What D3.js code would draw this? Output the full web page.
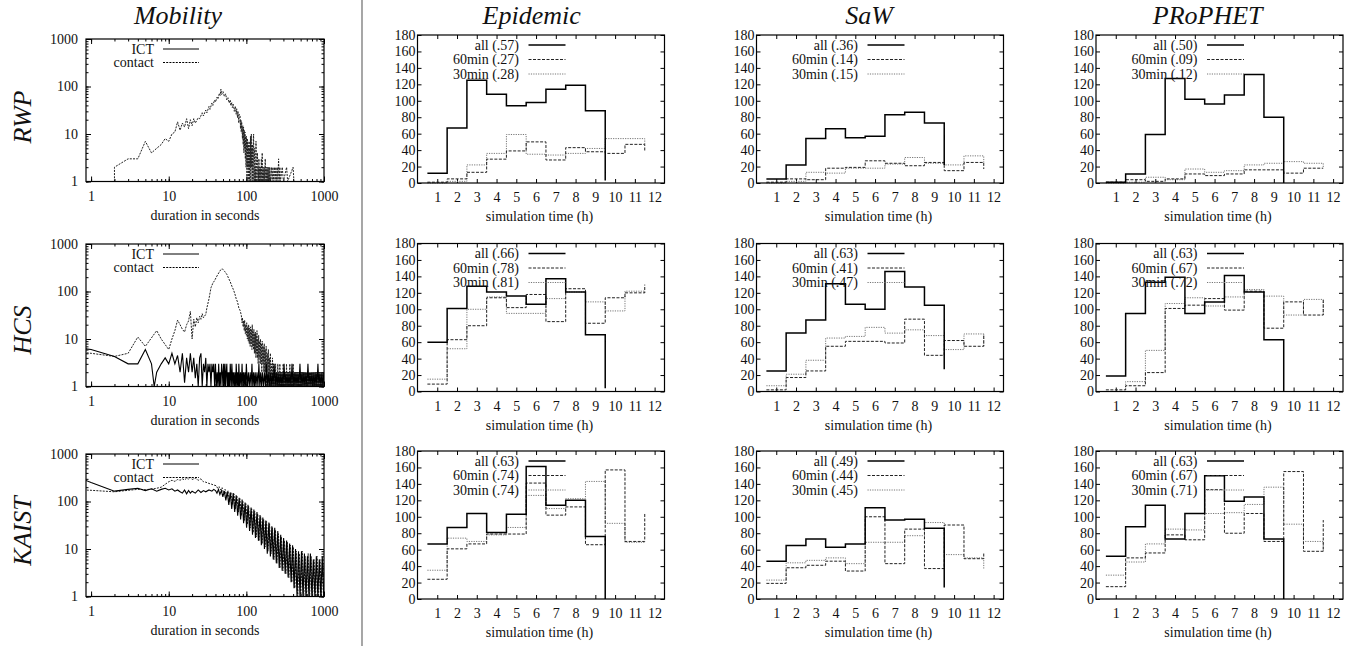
<!DOCTYPE html>
<html>
<head>
<meta charset="utf-8">
<script src="https://cdn.jsdelivr.net/npm/d3@7/dist/d3.min.js"></script>
<style>
  body { margin: 0; background: #fff; }
  text { font-family: "Liberation Serif", "Times New Roman", serif; fill: #111; }
</style>
</head>
<body>
<svg id="fig" width="1356" height="646"></svg>
<script>
// ---- labels
const algorithms = ["Epidemic", "SaW", "PRoPHET"]
const mobilities = ["RWP", "HCS", "KAIST"]
const hourTicks = [1, 2, 3, 4, 5, 6, 7, 8, 9, 10, 11, 12]
const countTicks = [0, 20, 40, 60, 80, 100, 120, 140, 160, 180]
const decadeTicks = [1, 10, 100, 1000]
const seriesNames = ["all", "60min", "30min"]

// ---- histogram values, one value per hour bin (x = .5, 1.5, ...); last value closes the step
// [all, 60min, 30min]
const epiRwp = [
  [12, 67, 125, 108, 94, 98, 114, 119, 88, 3],
  [1, 5, 13, 29, 39, 50, 28, 43, 38, 36, 47, 38],
  [0, 2, 22, 36, 59, 35, 34, 36, 42, 54, 54, 47]
]
const sawRwp = [
  [5, 22, 54, 66, 55, 57, 83, 86, 73, 22],
  [1, 5, 4, 18, 19, 27, 24, 21, 25, 15, 25, 17],
  [0, 2, 13, 12, 18, 18, 23, 31, 24, 22, 33, 25]
]
const proRwp = [
  [1, 11, 59, 127, 102, 96, 107, 132, 80, 0],
  [1, 4, 2, 5, 11, 9, 11, 16, 16, 12, 18, 18],
  [0, 1, 7, 4, 17, 13, 15, 22, 24, 26, 24, 19]
]
const epiHcs = [
  [60, 101, 128, 121, 116, 106, 137, 121, 69, 4],
  [9, 63, 80, 114, 102, 118, 85, 125, 83, 114, 120, 130],
  [15, 52, 100, 115, 95, 95, 113, 121, 109, 98, 122, 120]
]
const sawHcs = [
  [25, 71, 87, 131, 106, 100, 146, 127, 105, 27],
  [2, 17, 25, 55, 61, 61, 59, 88, 44, 62, 55, 70],
  [7, 21, 38, 65, 67, 78, 71, 75, 68, 51, 70, 55]
]
const proHcs = [
  [19, 95, 133, 139, 95, 109, 141, 121, 63, 0],
  [2, 7, 23, 101, 105, 113, 99, 122, 77, 109, 93, 112],
  [0, 12, 50, 107, 114, 104, 115, 124, 116, 93, 112, 93]
]
const epiKaist = [
  [67, 87, 104, 81, 103, 161, 114, 120, 76, 0],
  [24, 61, 67, 79, 79, 141, 102, 112, 66, 157, 70, 105],
  [35, 74, 70, 78, 87, 126, 110, 122, 143, 92, 69, 69]
]
const sawKaist = [
  [46, 65, 73, 63, 67, 111, 96, 97, 86, 14],
  [19, 38, 41, 46, 34, 100, 43, 85, 37, 90, 49, 57],
  [23, 44, 47, 50, 43, 69, 69, 77, 93, 54, 50, 37]
]
const proKaist = [
  [52, 88, 114, 73, 104, 150, 119, 124, 73, 0],
  [15, 50, 56, 78, 72, 133, 80, 104, 70, 155, 58, 96],
  [29, 45, 67, 85, 84, 104, 105, 115, 136, 91, 70, 58]
]
const corrRwp = [[".57", ".27", ".28"], [".36", ".14", ".15"], [".50", ".09", ".12"]]
const corrHcs = [[".66", ".78", ".81"], [".63", ".41", ".47"], [".63", ".67", ".72"]]
const corrKaist = [[".63", ".74", ".74"], [".49", ".44", ".45"], [".63", ".67", ".71"]]

// ---- duration distributions [seconds, count]
const rwpIct = [[3, 1], [3.6, 1]]
const rwpContact = [[2,1],[2,2],[3,3],[4,3],[5,7],[6,4],[7,5],[8,6],[9,8],[10,7],[11,10],[12,11],[13,18],[14,12],[15,17],[16,14],[17,21],[18,13],[19,20],[20,15],[21,21],[22,17],[24,22],[25,21],[27,28],[28,24],[30,32],[31,28],[33,38],[34,33],[36,45],[37,40],[39,52],[40,47],[42,60],[43,55],[45,72],[46,65],[47,88],[48,68],[50,78],[52,62],[54,70],[56,52],[58,58],[60,45],[62,52],[63,40],[65,46],[66,36],[68,42],[70,30],[72,38],[74,26],[75,34],[77,22],[78,30],[80,17],[81,26],[83,24],[84,13],[85,20],[86,11],[87,18],[89,8],[90,15],[91,6],[92,14],[93,4],[94,12],[95,5],[96,11],[97,3],[98,9],[99,2],[100,9],[101,3],[102,1],[103,8],[104,2],[105,7],[106,1],[107,6],[108,2],[109,5],[110,1],[111,7],[112,2],[113,9],[114,1],[115,6],[116,10],[117,2],[118,5],[119,1],[120,6],[121,2],[122,1],[123,8],[124,10],[125,2],[126,1],[127,4],[128,5],[129,1],[130,2],[131,1],[133,7],[135,2],[136,1],[138,3],[139,4],[141,1],[142,2],[144,1],[145,3],[147,1],[148,2],[150,1],[152,2],[154,1],[156,3],[158,1],[160,4],[162,1],[165,2],[167,1],[170,2],[172,1],[175,3],[178,1],[180,2],[183,1],[185,2],[188,1],[190,2],[193,1],[195,2],[198,1],[200,2],[205,1],[210,2],[215,1],[220,2],[225,1],[230,2],[235,1],[240,2],[245,1],[250,2],[255,1],[260,3],[265,1],[270,2],[275,1],[290,2],[300,1],[330,2],[340,1],[400,2],[410,1],[1000,1]]
const hcsIct = [[0.8,6.3],[1,6],[2,4.3],[3,3],[4,3],[5,6],[6,3],[6.5,1],[7,2],[8,3],[9,4],[10,3],[11,5],[12,3],[13,4.5],[14,2],[15,5],[16,1.2],[17,4],[18,2],[19,5],[20,2],[21,4],[22,1.5],[23,3],[24,1],[25,4],[26,5],[27,1],[28,3],[29,2],[30,4],[31,1],[32,3],[33,2],[34,3],[35,1],[36,3],[37,2],[38,3],[39,1],[40,3],[41,1],[42,2],[43,1],[44,3],[45,1],[46,2],[47,1],[48,3],[49,2],[50,1],[51,3],[52,1],[53,3],[54,1],[55,2],[56,3],[57,1],[58,2],[59,1],[60,2],[61,1],[62,3],[64,1],[65,3],[67,1],[68,2],[70,1],[71,2],[73,1],[74,3],[76,1],[77,2],[79,1],[80,3],[82,1],[84,2],[86,1],[88,3],[90,1],[92,2],[94,1],[96,2],[98,1],[100,3],[103,1],[106,2],[109,1],[112,2],[115,1],[118,3],[121,1],[124,2],[127,1],[130,2],[133,1],[137,2],[141,1],[145,3],[149,1],[153,2],[157,1],[161,2],[166,1],[171,2],[176,1],[181,3],[186,1],[191,2],[197,1],[203,2],[209,1],[215,2],[221,1],[228,3],[235,1],[242,2],[249,1],[256,2],[264,1],[272,2],[280,1],[288,2],[297,1],[306,3],[315,1],[324,2],[334,1],[344,2],[354,1],[365,2],[376,1],[387,3],[399,1],[411,2],[423,1],[436,2],[449,1],[462,2],[476,1],[490,3],[505,1],[520,2],[536,1],[552,2],[568,1],[585,2],[603,1],[621,3],[640,1],[659,2],[679,1],[699,2],[720,1],[742,2],[764,1],[787,2],[811,1],[835,3],[860,1],[886,2],[913,1],[940,2],[968,1],[1000,2]]
const hcsContact = [[0.8,5.2],[1,5],[2,4.3],[3,5],[4,11],[5,7],[7,15],[8,10],[10,6],[11,10],[12,15],[13,25],[14,20],[15,16],[16,14],[17,20],[18,24],[19,38],[20,10],[21,26],[22,18],[23,28],[24,22],[25,30],[26,26],[27,34],[28,28],[30,33],[31,45],[33,70],[35,120],[37,150],[39,170],[41,200],[43,230],[45,260],[47,290],[49,300],[51,280],[53,260],[56,230],[59,190],[62,160],[65,130],[68,110],[71,90],[74,70],[77,60],[80,45],[83,40],[86,32],[88,22],[89,28],[91,18],[92,24],[94,15],[95,25],[97,13],[98,20],[100,12],[101,22],[103,10],[104,18],[106,9],[107,20],[109,8],[110,17],[112,7],[113,18],[115,8],[116,16],[118,6],[119,20],[121,7],[122,14],[124,6],[125,16],[127,5],[128,13],[130,5],[131,14],[133,4],[134,12],[136,5],[137,15],[139,4],[140,10],[142,3],[144,12],[146,4],[148,9],[150,3],[152,10],[154,3],[156,8],[158,2],[160,9],[163,3],[165,7],[168,2],[170,8],[173,2],[175,6],[178,2],[180,7],[183,1],[186,5],[189,2],[192,6],[195,1],[198,4],[201,1],[204,5],[207,1],[210,3],[214,1],[217,4],[221,1],[224,3],[228,1],[231,2],[235,1],[238,3],[242,1],[246,2],[250,1],[254,3],[258,1],[262,2],[266,1],[270,3],[275,1],[279,2],[284,1],[288,2],[293,1],[298,3],[303,1],[308,2],[313,1],[318,2],[324,1],[329,3],[335,1],[340,2],[346,1],[351,2],[357,1],[363,3],[369,1],[375,2],[381,1],[388,2],[395,1],[401,3],[408,1],[415,2],[422,1],[430,2],[437,1],[445,2],[452,1],[460,2],[468,1],[476,2],[484,1],[493,2],[501,1],[510,2],[519,1],[528,2],[537,1],[546,2],[556,1],[565,2],[575,1],[585,2],[595,1],[605,2],[616,1],[626,2],[637,1],[648,2],[659,1],[670,2],[682,1],[694,2],[706,1],[718,2],[730,1],[743,2],[756,1],[769,2],[782,1],[796,2],[810,1],[824,2],[838,1],[853,2],[868,1],[883,2],[898,1],[914,2],[930,1],[946,2],[962,1],[979,2],[1000,1]]
const kaistIct = [[0.8,290],[1,250],[2,165],[3,180],[4,190],[5,170],[6,185],[7,165],[8,180],[9,190],[10,175],[11,185],[12,165],[13,175],[14,160],[15,150],[16,175],[17,145],[18,170],[19,150],[20,165],[22,150],[24,175],[26,155],[28,170],[30,160],[33,175],[36,165],[38,180],[40,170],[41.8,150],[43.7,180],[45.6,140],[47.7,170],[49.8,125],[52,165],[54.4,105],[56.8,160],[59.4,85],[62,155],[64.8,70],[67.7,150],[70.8,60],[74,135],[77.3,50],[80.8,120],[84.4,42],[88.2,110],[92.2,35],[96.3,95],[100.7,28],[105,85],[110,24],[115,75],[120,20],[125,68],[131,17],[137,60],[143,15],[150,52],[156,12],[163,46],[171,10],[178,40],[186,8],[195,36],[204,7],[213,30],[222,6],[232,28],[243,5],[254,24],[265,4],[277,20],[289,3.5],[302,17],[316,3],[330,15],[345,2.5],[361,13],[377,2],[394,12],[411,1.5],[430,10],[449,1],[470,9],[491,1],[513,9],[536,1],[560,8],[585,1],[612,7],[639,1],[668,8],[698,1],[729,6],[762,1],[797,7],[832,1],[870,6],[909,1],[950,7],[993,1]]
const kaistContact = [[0.8,175],[1,172],[2,160],[3,172],[4,180],[5,178],[6,182],[7,190],[8,200],[9,230],[10,260],[11,280],[12,265],[13,290],[14,280],[15,300],[16,285],[17,310],[18,295],[19,325],[20,290],[22,310],[24,280],[26,300],[28,260],[30,255],[33,240],[36,230],[38,222],[40.9,215],[42.7,190],[44.6,205],[46.6,175],[48.7,195],[50.9,150],[53.2,180],[55.6,125],[58.1,170],[60.7,100],[63.4,155],[66.2,85],[69.2,145],[72.4,70],[75.6,130],[79,60],[82.6,115],[86.3,50],[90.2,100],[94.2,40],[98.5,90],[103,33],[107,80],[112,28],[117,70],[122,22],[128,62],[134,18],[140,55],[146,15],[153,48],[160,13],[167,42],[174,11],[182,38],[190,9],[199,34],[208,8],[217,28],[227,6],[237,25],[248,5],[259,21],[271,4],[283,18],[296,3.5],[309,15],[323,3],[337,14],[353,2.5],[369,12],[385,2],[402,11],[420,1.5],[439,9],[459,1],[480,8],[502,1],[524,9],[548,1],[572,7],[598,1],[625,8],[653,1],[683,7],[713,1],[745,6],[779,1],[814,7],[851,1],[889,6],[929,1],[971,5],[1000,1]]

// ---- layout
const svg = d3.select("#fig")
const histLeft = [417.5, 756.5, 1096]
const histTop = [35, 243.5, 451]
const histW = 247, histH = 148
const logLeft = 86, logW = 238, logH = 142.5
const logTop = [39, 244, 454]
const titleX = [531.7, 869, 1207.7]
const rowLabelY = [117, 330, 531]

const seriesStyle = [
  { stroke: "#000", width: 1.5, dash: null },
  { stroke: "#222", width: 1, dash: "3,1.5" },
  { stroke: "#777", width: 1, dash: "1.2,1.2" }
]

let clipId = 0

function frame(g, x0, y0, w, h) {
  g.append("rect")
    .attr("x", x0).attr("y", y0).attr("width", w).attr("height", h)
    .attr("fill", "none").attr("stroke", "#000").attr("stroke-width", 1.2)
}

function cleanAxis(sel) {
  sel.select(".domain").remove()
  sel.selectAll("line").attr("stroke", "#000")
  sel.selectAll("text").attr("font-size", 14).attr("fill", "#111")
}

function histPanel(x0, y0, data, corr) {
  const x = d3.scaleLinear().domain([0, 12.5]).range([x0, x0 + histW])
  const y = d3.scaleLinear().domain([0, 180]).range([y0 + histH, y0])
  const g = svg.append("g")

  g.append("g").attr("transform", `translate(${x0},0)`)
    .call(d3.axisLeft(y).tickValues(countTicks).tickSize(-4).tickPadding(2))
    .call(cleanAxis)
  g.append("g").attr("transform", `translate(${x0 + histW},0)`)
    .call(d3.axisRight(y).tickValues(countTicks).tickSize(-4).tickFormat(""))
    .call(cleanAxis)
  g.append("g").attr("transform", `translate(0,${y0 + histH})`)
    .call(d3.axisBottom(x).tickValues(hourTicks).tickSize(-4).tickPadding(9.5))
    .call(cleanAxis)
  g.append("g").attr("transform", `translate(0,${y0})`)
    .call(d3.axisTop(x).tickValues(hourTicks).tickSize(-4).tickFormat(""))
    .call(cleanAxis)

  const line = d3.line()
    .x((d, i) => x(i + 0.5))
    .y((d) => y(d))
    .curve(d3.curveStepAfter)

  // dotted first, solid on top
  for (let s = 2; s >= 0; s--) {
    g.append("path")
      .datum(data[s])
      .attr("d", line)
      .attr("fill", "none")
      .attr("stroke", seriesStyle[s].stroke)
      .attr("stroke-width", seriesStyle[s].width)
      .attr("stroke-dasharray", seriesStyle[s].dash)
  }

  // legend
  seriesNames.forEach((name, s) => {
    const ly = y0 + 10 + s * 14.5
    g.append("text")
      .attr("x", x0 + 101.5).attr("y", ly + 4.5)
      .attr("text-anchor", "end").attr("font-size", 14)
      .text(`${name} (${corr[s]})`)
    g.append("line")
      .attr("x1", x0 + 111).attr("x2", x0 + 148).attr("y1", ly).attr("y2", ly)
      .attr("stroke", seriesStyle[s].stroke)
      .attr("stroke-width", seriesStyle[s].width)
      .attr("stroke-dasharray", seriesStyle[s].dash)
  })

  frame(g, x0, y0, histW, histH)

  g.append("text")
    .attr("x", x0 + 122).attr("y", y0 + histH + 38)
    .attr("text-anchor", "middle").attr("font-size", 14)
    .text("simulation time (h)")
}

function logPanel(y0, ict, contact) {
  const x0 = logLeft
  const x = d3.scaleLog().domain([0.86, 1000]).range([x0, x0 + logW])
  const y = d3.scaleLog().domain([1, 1000]).range([y0 + logH, y0])
  const g = svg.append("g")
  const minorX = x.ticks().filter((d) => d >= 1)
  const minorY = y.ticks()
  const fmt = d3.format("d")

  g.append("g").attr("transform", `translate(${x0},0)`)
    .call(d3.axisLeft(y).tickValues(minorY).tickSize(-2.5).tickFormat(""))
    .call(cleanAxis)
  g.append("g").attr("transform", `translate(${x0},0)`)
    .call(d3.axisLeft(y).tickValues(decadeTicks).tickSize(-5).tickPadding(8).tickFormat(fmt))
    .call(cleanAxis)
  g.append("g").attr("transform", `translate(${x0 + logW},0)`)
    .call(d3.axisRight(y).tickValues(minorY).tickSize(-2.5).tickFormat(""))
    .call(cleanAxis)
  g.append("g").attr("transform", `translate(${x0 + logW},0)`)
    .call(d3.axisRight(y).tickValues(decadeTicks).tickSize(-5).tickFormat(""))
    .call(cleanAxis)
  g.append("g").attr("transform", `translate(0,${y0 + logH})`)
    .call(d3.axisBottom(x).tickValues(minorX).tickSize(-2.5).tickFormat(""))
    .call(cleanAxis)
  g.append("g").attr("transform", `translate(0,${y0 + logH})`)
    .call(d3.axisBottom(x).tickValues(decadeTicks).tickSize(-5).tickPadding(9.5).tickFormat(fmt))
    .call(cleanAxis)
  g.append("g").attr("transform", `translate(0,${y0})`)
    .call(d3.axisTop(x).tickValues(minorX).tickSize(-2.5).tickFormat(""))
    .call(cleanAxis)
  g.append("g").attr("transform", `translate(0,${y0})`)
    .call(d3.axisTop(x).tickValues(decadeTicks).tickSize(-5).tickFormat(""))
    .call(cleanAxis)

  const id = "clip" + clipId++
  svg.append("clipPath").attr("id", id)
    .append("rect").attr("x", x0).attr("y", y0).attr("width", logW).attr("height", logH)

  const line = d3.line().x((d) => x(d[0])).y((d) => y(d[1]))
  const plot = g.append("g").attr("clip-path", `url(#${id})`)
  plot.append("path").datum(contact).attr("d", line)
    .attr("fill", "none").attr("stroke", "#222").attr("stroke-width", 1)
    .attr("stroke-dasharray", "2,1.2")
  plot.append("path").datum(ict).attr("d", line)
    .attr("fill", "none").attr("stroke", "#000").attr("stroke-width", 1.1)

  const legend = [["ICT", null], ["contact", "2,1.2"]]
  legend.forEach(([name, dash], s) => {
    const ly = y0 + 10 + s * 13.5
    g.append("text")
      .attr("x", x0 + 68).attr("y", ly + 4.5)
      .attr("text-anchor", "end").attr("font-size", 14)
      .text(name)
    g.append("line")
      .attr("x1", x0 + 77).attr("x2", x0 + 113).attr("y1", ly).attr("y2", ly)
      .attr("stroke", "#000").attr("stroke-width", 1)
      .attr("stroke-dasharray", dash)
  })

  frame(g, x0, y0, logW, logH)

  g.append("text")
    .attr("x", x0 + logW / 2).attr("y", y0 + logH + 38)
    .attr("text-anchor", "middle").attr("font-size", 14)
    .text("duration in seconds")
}

// ---- titles
svg.append("text").attr("x", 178).attr("y", 23.5)
  .attr("text-anchor", "middle").attr("font-size", 26).attr("font-style", "italic")
  .text("Mobility")
algorithms.forEach((name, c) => {
  svg.append("text").attr("x", titleX[c]).attr("y", 23.5)
    .attr("text-anchor", "middle").attr("font-size", 26).attr("font-style", "italic")
    .text(name)
})
mobilities.forEach((name, r) => {
  svg.append("text")
    .attr("transform", `translate(31,${rowLabelY[r]}) rotate(-90)`)
    .attr("text-anchor", "middle").attr("font-size", 26).attr("font-style", "italic")
    .text(name)
})

// separator
svg.append("line").attr("x1", 362).attr("x2", 362).attr("y1", 0).attr("y2", 646)
  .attr("stroke", "#777").attr("stroke-width", 1.3)

// ---- panels
logPanel(logTop[0], rwpIct, rwpContact)
logPanel(logTop[1], hcsIct, hcsContact)
logPanel(logTop[2], kaistIct, kaistContact)

const histData = [[epiRwp, sawRwp, proRwp], [epiHcs, sawHcs, proHcs], [epiKaist, sawKaist, proKaist]]
const corrData = [corrRwp, corrHcs, corrKaist]
histData.forEach((row, r) => {
  row.forEach((data, c) => histPanel(histLeft[c], histTop[r], data, corrData[r][c]))
})
</script>
</body>
</html>
